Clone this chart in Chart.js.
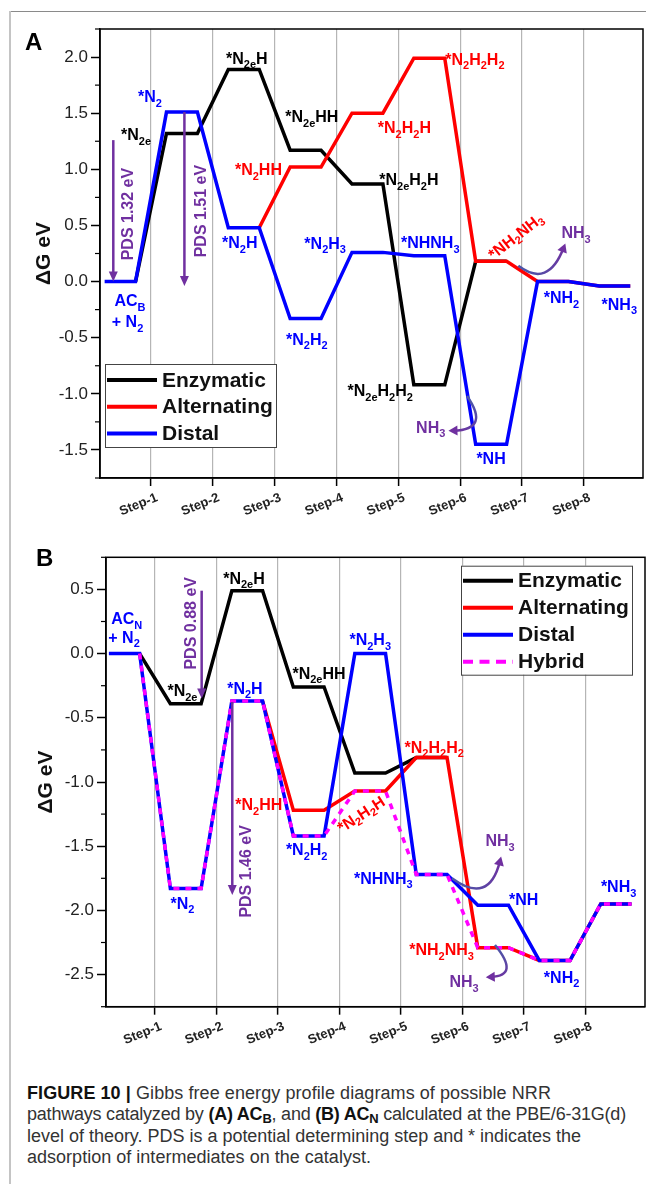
<!DOCTYPE html>
<html>
<head>
<meta charset="utf-8">
<script src="https://cdn.jsdelivr.net/npm/chart.js@4.4.1/dist/chart.umd.min.js"></script>
<style>
  body { margin: 0; background: #fff; width: 646px; height: 1184px; position: relative; overflow: hidden; }
  #frameTop { position: absolute; left: 10px; top: 11px; width: 636px; height: 0; border-top: 1.5px solid #8a8a8a; }
  #frameLeft { position: absolute; left: 9px; top: 11px; width: 0; height: 1173px; border-left: 2px solid #c4c4c4; }
  canvas { position: absolute; left: 0; }
  #panelA { top: 0; }
  #panelB { top: 530px; }
  #caption {
    position: absolute; left: 27px; top: 1083px;
    font-family: "Liberation Sans", Arial, sans-serif; font-size: 18px; line-height: 20.5px;
    color: #333; white-space: nowrap;
  }
  #caption .ln { display: block; width: max-content; }
  #caption b { color: #111; }
  #caption sub { font-size: 0.72em; vertical-align: baseline; position: relative; top: 0.25em; }
</style>
</head>
<body>
<div id="frameTop"></div>
<div id="frameLeft"></div>
<canvas id="panelA" width="646" height="530" style="width:646px;height:530px"></canvas>
<canvas id="panelB" width="646" height="520" style="width:646px;height:520px"></canvas>
<div id="caption">
  <span class="ln" data-w="524"><b>FIGURE 10 |</b> Gibbs free energy profile diagrams of possible NRR</span>
  <span class="ln" data-w="599">pathways catalyzed by <b>(A) AC<sub>B</sub></b>, and <b>(B) AC<sub>N</sub></b> calculated at the PBE/6-31G(d)</span>
  <span class="ln" data-w="554">level of theory. PDS is a potential determining step and * indicates the</span>
  <span class="ln" data-w="344">adsorption of intermediates on the catalyst.</span>
</div>
<script>
// --- steps and axis ticks ---
const stepTicks = [1, 2, 3, 4, 5, 6, 7, 8];
const stepLabels = ['Step-1', 'Step-2', 'Step-3', 'Step-4', 'Step-5', 'Step-6', 'Step-7', 'Step-8'];
const energyTicksA = [-1.5, -1.0, -0.5, 0.0, 0.5, 1.0, 1.5, 2.0];
const energyTicksB = [-2.5, -2.0, -1.5, -1.0, -0.5, 0.0, 0.5];

// --- ΔG (eV) per intermediate, level 0 = catalyst + N2 ---
// AC_B
const enzymaticA   = [0, 1.32, 1.89, 1.17, 0.87, -0.92, 0.18];
const alternatingA = [0, 1.51, 0.48, 1.02, 1.50, 1.99, 0.18, 0.00, -0.04];
const distalA      = [0, 1.51, 0.48, -0.33, 0.26, 0.23, -1.45, 0.00, -0.04];
// AC_N
const enzymaticB   = [0, -0.39, 0.49, -0.26, -0.93, -0.81];
const alternatingB = [0, -1.83, -0.37, -1.22, -1.07, -0.81, -2.29, -2.39, -1.95];
const distalB      = [0, -1.83, -0.37, -1.42, 0.00, -1.72, -1.96, -2.39, -1.95];
const hybridB      = [0, -1.83, -0.37, -1.42, -1.07, -1.72, -2.29, -2.39, -1.95];

const FONT = '"Liberation Sans", Arial, Helvetica, sans-serif';
const BLACK = '#000000', RED = '#ff0000', BLUE = '#0000ff', MAGENTA = '#ff00ff', PURPLE = '#7030a0';

// spread each caption line to its set width
document.querySelectorAll('#caption .ln').forEach(el => {
  const chars = el.textContent.length;
  const extra = +el.dataset.w - el.getBoundingClientRect().width;
  el.style.letterSpacing = (extra / chars).toFixed(3) + 'px';
});

// each level is a flat bar from i+0.25 to i+0.75 joined by sloped lines;
// 'from' = level whose right end starts the path (earlier part sits under another pathway)
function levelPoints(levels, from = -1) {
  const pts = [];
  levels.forEach((v, i) => {
    if (i < from) return;
    if (i > from) pts.push({ x: i + 0.25, y: v });
    pts.push({ x: i + 0.75, y: v });
  });
  return pts;
}

function pathway(label, color, pts, order, dash) {
  return {
    label, data: pts, borderColor: color, backgroundColor: color,
    borderWidth: 3.5, borderDash: dash || [], borderJoinStyle: 'miter',
    pointRadius: 0, pointHoverRadius: 0, tension: 0, fill: false, order
  };
}

// text with _{...} subscripts
function drawRich(ctx, str, x, y, o) {
  const size = o.size || 16;
  const parts = str.split(/(_\{[^}]*\})/).filter(Boolean).map(p =>
    p.startsWith('_{') ? { t: p.slice(2, -1), sub: true } : { t: p, sub: false });
  const fMain = `bold ${size}px ${FONT}`;
  const fSub = `bold ${Math.round(size * 0.68)}px ${FONT}`;
  let w = 0;
  parts.forEach(p => { ctx.font = p.sub ? fSub : fMain; p.w = ctx.measureText(p.t).width; w += p.w; });
  ctx.save();
  ctx.translate(x, y);
  if (o.rot) ctx.rotate(o.rot * Math.PI / 180);
  ctx.fillStyle = o.c;
  ctx.textBaseline = o.mid ? 'middle' : 'alphabetic';
  ctx.textAlign = 'left';
  let cx = -w / 2;
  parts.forEach(p => {
    ctx.font = p.sub ? fSub : fMain;
    ctx.fillText(p.t, cx, p.sub ? size * 0.28 : 0);
    cx += p.w;
  });
  ctx.restore();
}

function arrowHead(ctx, x, y, ang, len, half) {
  const c = Math.cos(ang), s = Math.sin(ang);
  ctx.beginPath();
  ctx.moveTo(x, y);
  ctx.lineTo(x - len * c + half * s, y - len * s - half * c);
  ctx.lineTo(x - len * c - half * s, y - len * s + half * c);
  ctx.closePath();
  ctx.fill();
}

function overlay(p) {
  return {
    id: 'overlay',
    afterDatasetsDraw(chart) {
      const { ctx, chartArea: a, scales: { x, y } } = chart;
      const px = s => x.getPixelForValue(s), py = v => y.getPixelForValue(v);
      ctx.save();

      // minor ticks between the labelled energies
      ctx.strokeStyle = '#000';
      ctx.lineWidth = 1.2;
      for (let i = 0; p.yMin + i * 0.25 <= p.yMax + 1e-6; i++) {
        const v = p.yMin + i * 0.25;
        if (Math.abs(v * 2 - Math.round(v * 2)) < 0.01) continue;
        ctx.beginPath();
        ctx.moveTo(a.left - 5, py(v));
        ctx.lineTo(a.left, py(v));
        ctx.stroke();
      }

      // plot box
      ctx.lineWidth = 1.5;
      ctx.strokeRect(a.left, a.top, a.width, a.height);

      // potential determining step arrows
      ctx.strokeStyle = PURPLE;
      ctx.fillStyle = PURPLE;
      ctx.lineWidth = 2.5;
      p.pds.forEach(d => {
        const xx = px(d.s), y0 = py(d.from), y1 = py(d.to);
        ctx.beginPath();
        ctx.moveTo(xx, y0);
        ctx.lineTo(xx, y1 - 8);
        ctx.stroke();
        arrowHead(ctx, xx, y1, Math.PI / 2, 10, 4.5);
      });

      // NH3 release arrows
      p.curls.forEach(cu => {
        const x0 = px(cu.p0[0]), y0 = py(cu.p0[1]);
        const xc = px(cu.c[0]), yc = py(cu.c[1]);
        const x1 = px(cu.p1[0]), y1 = py(cu.p1[1]);
        const g = ctx.createLinearGradient(x0, y0, x1, y1);
        g.addColorStop(0, '#4b57a8');
        g.addColorStop(1, PURPLE);
        const ang = Math.atan2(y1 - yc, x1 - xc);
        ctx.strokeStyle = g;
        ctx.lineWidth = 2.5;
        ctx.beginPath();
        ctx.moveTo(x0, y0);
        ctx.quadraticCurveTo(xc, yc, x1 - 5 * Math.cos(ang), y1 - 5 * Math.sin(ang));
        ctx.stroke();
        ctx.fillStyle = PURPLE;
        arrowHead(ctx, x1, y1, ang, 9, 5);
      });

      // intermediate labels
      p.labels.forEach(l => drawRich(ctx, l.t, px(l.s), py(l.v), l));

      // legend
      const lg = p.legend;
      const lx = a.left + lg.dx, ly = a.top + lg.dy;
      ctx.fillStyle = '#fff';
      ctx.fillRect(lx, ly, lg.w, lg.h);
      ctx.strokeStyle = '#444';
      ctx.lineWidth = 1;
      ctx.setLineDash([]);
      ctx.strokeRect(lx + 0.5, ly + 0.5, lg.w, lg.h);
      chart.data.datasets.forEach((ds, i) => {
        const yy = ly + lg.row0 + i * lg.rowH;
        ctx.strokeStyle = ds.borderColor;
        ctx.lineWidth = 4;
        ctx.setLineDash(ds.borderDash.length ? [10, 6.5] : []);
        ctx.beginPath();
        ctx.moveTo(lx + 2, yy);
        ctx.lineTo(lx + 52, yy);
        ctx.stroke();
        ctx.setLineDash([]);
        ctx.fillStyle = '#111';
        ctx.font = `bold 21px ${FONT}`;
        ctx.textAlign = 'left';
        ctx.textBaseline = 'middle';
        ctx.fillText(ds.label, lx + 57, yy + 1);
      });

      // panel letter
      ctx.fillStyle = '#000';
      ctx.font = `bold 24px ${FONT}`;
      ctx.textAlign = 'left';
      ctx.textBaseline = 'alphabetic';
      ctx.fillText(p.letter, a.left + p.letterDx, a.top + p.letterDy);
      ctx.restore();
    }
  };
}

function makePanel(id, p) {
  return new Chart(document.getElementById(id), {
    type: 'line',
    data: { datasets: p.datasets },
    options: {
      responsive: false,
      animation: false,
      devicePixelRatio: 1,
      layout: { padding: p.padding },
      plugins: { legend: { display: false }, tooltip: { enabled: false } },
      scales: {
        x: {
          type: 'linear', min: p.xMin, max: p.xMax,
          afterBuildTicks: s => { s.ticks = stepTicks.map(v => ({ value: v })); },
          afterFit: s => { s.height = p.xAxisHeight; },
          ticks: {
            autoSkip: false, minRotation: 22, maxRotation: 22, padding: 4, labelOffset: 6, color: '#222',
            font: { family: FONT, size: 13, weight: 'bold' },
            callback: (v, i) => stepLabels[i]
          },
          grid: { color: '#b5b5b5', lineWidth: 1.2, tickColor: '#000', tickLength: 8, tickWidth: 1.5 },
          border: { color: '#000', width: 1.5 }
        },
        y: {
          type: 'linear', min: p.yMin, max: p.yMax,
          afterBuildTicks: s => { s.ticks = p.yTicks.map(v => ({ value: v })); },
          afterFit: s => { s.width = p.yAxisWidth; },
          ticks: { padding: 3, color: '#222', font: { family: FONT, size: 17 }, callback: v => v.toFixed(1) },
          grid: { drawOnChartArea: false, tickColor: '#000', tickLength: 9, tickWidth: 1.5 },
          border: { color: '#000', width: 1.5 },
          title: {
            display: true, text: 'ΔG eV', color: '#111',
            font: { family: FONT, size: 21, weight: 'bold' },
            padding: { top: p.titlePad, bottom: 0 }
          }
        }
      }
    },
    plugins: [overlay(p)]
  });
}

// ---------- panel A : AC_B ----------
makePanel('panelA', {
  letter: 'A', letterDx: -75, letterDy: 21,
  padding: { left: 0, top: 29, right: 3, bottom: 0 },
  xMin: 0.175, xMax: 8.956, yMin: -1.75, yMax: 2.25,
  yTicks: energyTicksA, yAxisWidth: 100, xAxisHeight: 52, titlePad: 32,
  datasets: [
    pathway('Enzymatic', BLACK, levelPoints(enzymaticA, 0), 3),
    pathway('Alternating', RED, levelPoints(alternatingA, 2), 2),
    pathway('Distal', BLUE, levelPoints(distalA), 1)
  ],
  legend: { dx: 5, dy: 335, w: 171, h: 83, row0: 16, rowH: 26.7 },
  pds: [
    { s: 0.39, from: 1.26, to: 0.0 },
    { s: 1.54, from: 1.51, to: -0.04 }
  ],
  curls: [
    { p0: [6.94, 0.14], c: [7.42, -0.06], p1: [7.70, 0.34] },
    { p0: [6.11, -1.02], c: [6.49, -1.32], p1: [5.81, -1.33] }
  ],
  labels: [
    { t: '*N_{2e}', s: 0.757, v: 1.258, c: BLACK },
    { t: '*N_{2}', s: 0.984, v: 1.599, c: BLUE },
    { t: '*N_{2e}H', s: 2.549, v: 1.939, c: BLACK },
    { t: '*N_{2e}HH', s: 3.60, v: 1.421, c: BLACK },
    { t: '*N_{2}HH', s: 2.737, v: 0.948, c: RED },
    { t: '*N_{2}H', s: 2.435, v: 0.297, c: BLUE },
    { t: '*N_{2}H_{3}', s: 3.816, v: 0.29, c: BLUE },
    { t: '*N_{2}H_{2}H_{2}', s: 6.238, v: 1.933, c: RED },
    { t: '*N_{2}H_{2}H', s: 5.097, v: 1.323, c: RED },
    { t: '*N_{2e}H_{2}H', s: 5.17, v: 0.859, c: BLACK },
    { t: '*NHNH_{3}', s: 5.515, v: 0.297, c: BLUE },
    { t: '*NH_{2}NH_{3}', s: 6.906, v: 0.397, c: RED, rot: -38, mid: true },
    { t: 'NH_{3}', s: 7.874, v: 0.385, c: PURPLE },
    { t: '*NH_{2}', s: 7.638, v: -0.192, c: BLUE },
    { t: '*NH_{3}', s: 8.573, v: -0.251, c: BLUE },
    { t: '*NH', s: 6.499, v: -1.628, c: BLUE },
    { t: 'NH_{3}', s: 5.523, v: -1.346, c: PURPLE },
    { t: '*N_{2e}H_{2}H_{2}', s: 4.706, v: -1.021, c: BLACK },
    { t: '*N_{2}H_{2}', s: 3.519, v: -0.562, c: BLUE },
    { t: 'AC_{B}', s: 0.66, v: -0.222, c: BLUE },
    { t: '+ N_{2}', s: 0.62, v: -0.405, c: BLUE },
    { t: 'PDS 1.32 eV', s: 0.633, v: 0.601, c: PURPLE, rot: -90, mid: true },
    { t: 'PDS 1.51 eV', s: 1.814, v: 0.628, c: PURPLE, rot: -90, mid: true }
  ]
});

// ---------- panel B : AC_N ----------
makePanel('panelB', {
  letter: 'B', letterDx: -70, letterDy: 8.4,
  padding: { left: 0, top: 27.3, right: 1, bottom: 0 },
  xMin: 0.203, xMax: 8.97, yMin: -2.75, yMax: 0.75,
  yTicks: energyTicksB, yAxisWidth: 106, xAxisHeight: 43.3, titlePad: 34,
  datasets: [
    pathway('Enzymatic', BLACK, levelPoints(enzymaticB, 0), 3),
    pathway('Alternating', RED, levelPoints(alternatingB, 2), 2),
    pathway('Distal', BLUE, levelPoints(distalB), 1),
    pathway('Hybrid', MAGENTA, levelPoints(hybridB, 0), 0, [6, 6])
  ],
  legend: { dx: 355, dy: 8.4, w: 171, h: 109, row0: 15, rowH: 27 },
  pds: [
    { s: 1.759, from: 0.49, to: -0.35 },
    { s: 2.257, from: -0.377, to: -1.88 }
  ],
  curls: [
    { p0: [5.83, -1.75], c: [6.43, -1.96], p1: [6.63, -1.58] },
    { p0: [6.53, -2.27], c: [6.94, -2.51], p1: [6.38, -2.52] }
  ],
  labels: [
    { t: 'AC_{N}', s: 0.54, v: 0.228, c: BLUE },
    { t: '+ N_{2}', s: 0.496, v: 0.083, c: BLUE },
    { t: '*N_{2e}', s: 1.447, v: -0.333, c: BLACK },
    { t: '*N_{2e}H', s: 2.447, v: 0.545, c: BLACK },
    { t: '*N_{2}H', s: 2.463, v: -0.312, c: BLUE },
    { t: '*N_{2e}HH', s: 3.667, v: -0.195, c: BLACK },
    { t: '*N_{2}H_{3}', s: 4.501, v: 0.065, c: BLUE },
    { t: '*N_{2}H_{2}H_{2}', s: 5.541, v: -0.774, c: RED },
    { t: '*N_{2}HH', s: 2.688, v: -1.22, c: RED },
    { t: '*N_{2}H_{2}', s: 3.467, v: -1.571, c: BLUE },
    { t: '*N_{2}', s: 1.447, v: -1.986, c: BLUE },
    { t: '*N_{2}H_{2}H', s: 4.361, v: -1.259, c: RED, rot: -33, mid: true },
    { t: '*NHNH_{3}', s: 4.713, v: -1.791, c: BLUE },
    { t: 'NH_{3}', s: 6.613, v: -1.501, c: PURPLE },
    { t: '*NH', s: 6.995, v: -1.96, c: BLUE },
    { t: '*NH_{2}NH_{3}', s: 5.661, v: -2.35, c: RED },
    { t: 'NH_{3}', s: 6.028, v: -2.597, c: PURPLE },
    { t: '*NH_{2}', s: 7.613, v: -2.565, c: BLUE },
    { t: '*NH_{3}', s: 8.541, v: -1.857, c: BLUE },
    { t: 'PDS 0.88 eV', s: 1.597, v: 0.236, c: PURPLE, rot: -90, mid: true },
    { t: 'PDS 1.46 eV', s: 2.491, v: -1.696, c: PURPLE, rot: -90, mid: true }
  ]
});
</script>
</body>
</html>
